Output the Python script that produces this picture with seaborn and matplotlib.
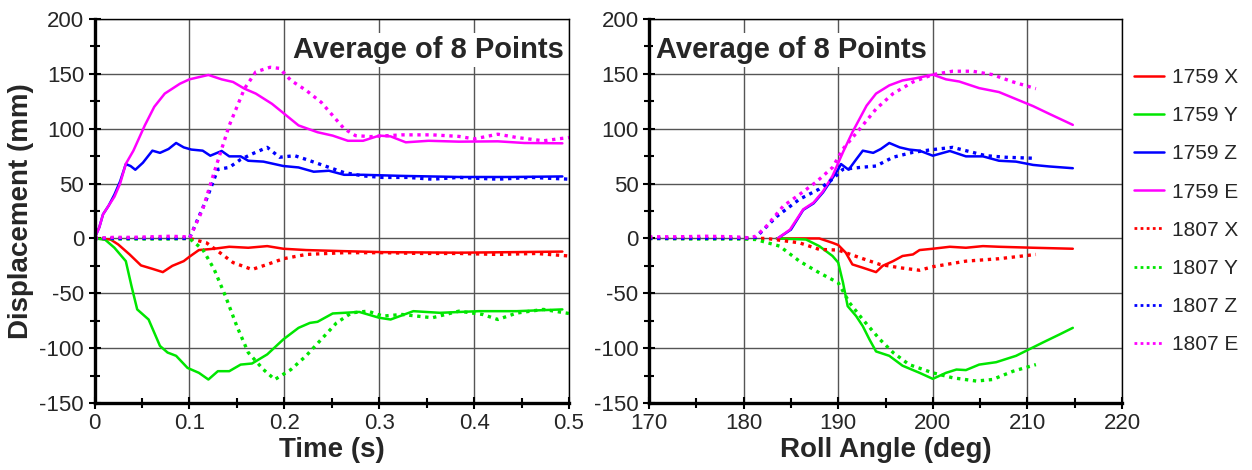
import matplotlib
matplotlib.use("Agg")
import matplotlib.pyplot as plt
from matplotlib.ticker import MultipleLocator
from matplotlib.lines import Line2D
import seaborn as sns
import pandas as pd

sns.set_theme(style="white")
plt.rcParams["font.family"] = ["Liberation Sans", "DejaVu Sans"]
plt.rcParams["axes.unicode_minus"] = False

# ---------------- Time history (s) ----------------
t_1759_x = [0, 0.017, 0.025, 0.037, 0.049, 0.061, 0.072, 0.082, 0.094, 0.1, 0.11, 0.126,
            0.142, 0.162, 0.182, 0.199, 0.223, 0.263, 0.304, 0.384, 0.44, 0.493]
d_1759_x = [0, -1, -5.5, -14.6, -24.6, -27.7, -30.7, -25, -20.7, -16.7, -10.6, -9.4,
            -7.6, -8.5, -7, -9.4, -10.6, -11.6, -12.5, -13, -12.5, -12]

t_1759_y = [0, 0.011, 0.021, 0.033, 0.039, 0.045, 0.057, 0.069, 0.077, 0.086, 0.098, 0.11,
            0.12, 0.13, 0.142, 0.154, 0.166, 0.182, 0.199, 0.215, 0.227, 0.235, 0.251,
            0.279, 0.3, 0.312, 0.336, 0.364, 0.405, 0.445, 0.493]
d_1759_y = [0, -1, -8.5, -20.7, -43.5, -64.7, -73.9, -98, -104, -107, -118, -122.5,
            -128.6, -121, -121, -115, -114, -105.7, -92, -81.5, -77, -76, -68.4,
            -67, -72.3, -73.9, -66.3, -67.8, -66.3, -66.3, -64.7]

t_1759_z = [0, 0.005, 0.009, 0.015, 0.021, 0.027, 0.033, 0.038, 0.043, 0.051, 0.061, 0.069,
            0.078, 0.086, 0.094, 0.102, 0.114, 0.122, 0.134, 0.142, 0.154, 0.162, 0.178,
            0.199, 0.215, 0.231, 0.247, 0.263, 0.283, 0.324, 0.384, 0.44, 0.493]
d_1759_z = [0, 10, 22, 30, 40, 52, 67.8, 66, 62.6, 69, 80, 78,
            81.5, 87, 83, 81, 80, 75.4, 79.7, 74.8, 74.8, 70.8, 70,
            66, 64.7, 60.8, 61.7, 58, 58, 57, 56, 56, 56.5]

t_1759_e = [0, 0.005, 0.009, 0.015, 0.021, 0.027, 0.033, 0.041, 0.053, 0.063, 0.074, 0.09,
            0.1, 0.11, 0.12, 0.134, 0.146, 0.158, 0.17, 0.187, 0.2, 0.215, 0.235, 0.251,
            0.267, 0.283, 0.3, 0.312, 0.328, 0.352, 0.384, 0.425, 0.453, 0.493]
d_1759_e = [0, 10, 22, 30, 38, 50, 68, 80, 103, 120, 132, 141,
            145, 147, 149, 145, 142.6, 136.5, 132, 122.7, 113.6, 103, 96.8, 93.7,
            89, 89, 93.7, 93, 87.6, 89, 88.2, 88.5, 87, 86.7]

t_1807_x = [0, 0.02, 0.04, 0.06, 0.08, 0.1, 0.118, 0.13, 0.146, 0.166, 0.182, 0.199,
            0.223, 0.263, 0.304, 0.344, 0.384, 0.425, 0.465, 0.5]
d_1807_x = [0, 0, 0, 0, 0, 0, -4, -11.6, -22, -28.3, -23.7, -18.5,
            -14.6, -13, -13, -13.7, -13.7, -14.6, -13.7, -16]

t_1807_y = [0, 0.02, 0.04, 0.06, 0.08, 0.1, 0.114, 0.126, 0.138, 0.15, 0.162, 0.178,
            0.19, 0.207, 0.223, 0.239, 0.255, 0.271, 0.288, 0.304, 0.324, 0.356, 0.384,
            0.409, 0.425, 0.445, 0.473, 0.5]
d_1807_y = [0, -0.5, -0.5, -0.5, -0.5, 0, -10, -28, -52.6, -80, -104, -119.5,
            -128.6, -119.5, -107, -92, -77, -67.8, -66.3, -70.8, -69.3, -72.3, -66.3,
            -69.3, -73.9, -68, -64.7, -68.4]

t_1807_z = [0, 0.02, 0.04, 0.06, 0.08, 0.1, 0.118, 0.13, 0.142, 0.154, 0.166, 0.182,
            0.195, 0.211, 0.223, 0.243, 0.263, 0.283, 0.303, 0.33, 0.356, 0.384, 0.425,
            0.46, 0.5]
d_1807_z = [0, 0, 0, 0, 0, 0, 35.7, 63, 64.7, 72, 77, 83,
            74, 75.4, 72, 66, 60, 57, 55.6, 55.6, 54, 55.6, 54,
            55.6, 54]

t_1807_e = [0, 0.02, 0.04, 0.06, 0.08, 0.095, 0.1, 0.114, 0.126, 0.142, 0.158, 0.17,
            0.185, 0.195, 0.207, 0.223, 0.239, 0.251, 0.263, 0.275, 0.291, 0.324, 0.356,
            0.384, 0.4, 0.425, 0.445, 0.473, 0.5]
d_1807_e = [0, 1, 1, 1.5, 2, 1.5, 0, 26.5, 60, 103, 136.5, 151.8,
            156, 155, 144, 135, 124, 112, 100, 93.7, 92.8, 94.4, 94.4,
            93, 90.7, 95, 92, 89, 92]

# ---------------- Roll angle (deg) ----------------
a_1759_x = [183.5, 186, 188, 189.4, 190, 190.8, 191.5, 192.6, 194, 194.7, 195.8, 196.8,
            197.9, 198.6, 200, 201.8, 203.5, 205.3, 207, 210.6, 214.8]
r_1759_x = [0, 0, 0, -4, -6, -13, -23.7, -26.7, -30.7, -25, -20.7, -16,
            -14.6, -10.6, -9.4, -7.6, -8.5, -7, -7.6, -8.5, -9.4]

a_1759_y = [183.5, 186.6, 188, 189.4, 190, 190.5, 191, 191.9, 192.6, 193.3, 194, 195.4,
            196.8, 198.6, 200, 201.4, 202.5, 203.5, 204.9, 206.7, 208.8, 210.2, 211.6,
            213.4, 214.8]
r_1759_y = [0, -1, -7, -16, -22, -40, -61.7, -70.8, -80, -92, -103, -107,
            -116, -122.5, -128, -122.5, -119.5, -120, -115, -112.8, -107, -101, -95,
            -87.5, -81.5]

a_1759_z = [183.6, 185, 186.3, 187.4, 188.4, 189.4, 190, 190.3, 191.1, 191.9, 192.6, 193.7,
            194.5, 195.4, 196.5, 197.5, 198.6, 200, 201.8, 203.5, 205.3, 207, 208.8,
            210.6, 212.3, 214.8]
r_1759_z = [0, 8, 26, 32, 42, 55, 63, 67.8, 62.6, 72, 80, 78,
            81.5, 87, 83, 81, 80, 75.4, 79.7, 74.8, 74.8, 70.8, 70,
            67, 65.6, 64]

a_1759_e = [183.6, 184.9, 186.3, 187.4, 188.4, 189.4, 190.5, 191.5, 193, 194, 195.4, 196.8,
            198.2, 200, 201.4, 202.8, 204.9, 207, 208.8, 210.6, 212.3, 214.8]
r_1759_e = [0, 8, 26.5, 32.7, 43, 57, 78.5, 96.8, 121, 132, 139.5, 144,
            146, 149.3, 145, 143, 137, 133.4, 127, 120.6, 113.6, 103.5]

a_1807_x = [170, 175, 180, 182.4, 185.9, 188, 190, 192.3, 194.4, 196.5, 198.6, 200,
            203.5, 207, 210.9]
r_1807_x = [0, 0, 0, 0, -4, -10, -10.6, -17.6, -23.7, -26.7, -29, -25.8,
            -20.7, -18.5, -14.6]

a_1807_y = [170, 175, 180, 181.3, 183.8, 185.9, 188, 190, 191.2, 192.6, 194.4, 195.8,
            197.5, 200, 202.1, 204.6, 206.3, 208.5, 210.9]
r_1807_y = [0, -0.5, -0.5, -1, -7, -20.7, -31.3, -40.4, -58.7, -73.9, -92, -104,
            -115, -122.5, -127, -130, -128.6, -121, -115]

a_1807_z = [170, 175, 180, 181.3, 183.5, 185.9, 188, 189.4, 190.5, 192.3, 194, 195.8,
            197.9, 200, 202.1, 203.5, 205.6, 207.7, 210.9]
r_1807_z = [0, 0, 0, 1, 20, 35.7, 45, 54, 63, 64.7, 66, 74,
            78.5, 81, 83, 80, 75.4, 74, 73]

a_1807_e = [170, 173, 176, 179, 180.5, 181.3, 182.4, 184.2, 185.9, 187.7, 189.4, 190.5,
            192.3, 194, 195.8, 197.9, 200, 202.1, 204.2, 206.3, 208.5, 210.9]
r_1807_e = [1.5, 1.5, 2, 1.5, 0.6, 2, 11, 29.6, 40, 51.6, 64.7, 81.5,
            100, 118, 132, 142.6, 149.3, 152.4, 152.4, 149.3, 142.6, 136.5]

series_names = ["1759 X", "1759 Y", "1759 Z", "1759 E",
                "1807 X", "1807 Y", "1807 Z", "1807 E"]
time_series = [(t_1759_x, d_1759_x), (t_1759_y, d_1759_y), (t_1759_z, d_1759_z),
               (t_1759_e, d_1759_e), (t_1807_x, d_1807_x), (t_1807_y, d_1807_y),
               (t_1807_z, d_1807_z), (t_1807_e, d_1807_e)]
angle_series = [(a_1759_x, r_1759_x), (a_1759_y, r_1759_y), (a_1759_z, r_1759_z),
                (a_1759_e, r_1759_e), (a_1807_x, r_1807_x), (a_1807_y, r_1807_y),
                (a_1807_z, r_1807_z), (a_1807_e, r_1807_e)]

colors = ["#ff0000", "#00e600", "#0000ff", "#ff00ff"] * 2
styles = ["-"] * 4 + [":"] * 4

fig = plt.figure(figsize=(12.52, 4.70), dpi=100)
ax_t = fig.add_axes([94.5 / 1252, 67 / 470, (569 - 94.5) / 1252, 384 / 470])
ax_a = fig.add_axes([649 / 1252, 67 / 470, (1122 - 649) / 1252, 384 / 470])


def draw(ax, data):
    for (xs, ys), name, c, ls in zip(data, series_names, colors, styles):
        df = pd.DataFrame({"x": xs, "y": ys})
        lw = 1.8 if ls == "-" else 2.4
        sns.lineplot(data=df, x="x", y="y", ax=ax, color=c, lw=lw, sort=False,
                     estimator=None)
        ax.lines[-1].set_linestyle((0, (1, 1.4)) if ls == ":" else "-")
        if ls == ":":
            ax.lines[-1].set_dash_capstyle("butt")


def style_axes(ax, xmin, xmax, major, minor, label, text_x, text_ha):
    ax.set_xlim(xmin, xmax)
    ax.set_ylim(-150, 200)
    ax.xaxis.set_major_locator(MultipleLocator(major))
    ax.xaxis.set_minor_locator(MultipleLocator(minor))
    ax.yaxis.set_major_locator(MultipleLocator(50))
    ax.yaxis.set_minor_locator(MultipleLocator(25))
    ax.grid(True, which="major", color="#555555", lw=1.0)
    ax.set_axisbelow(True)
    ax.tick_params(which="both", direction="inout", color="black", width=1.5,
                   labelsize=16, pad=3, bottom=True, left=True, top=False, right=False)
    ax.tick_params(which="major", length=9)
    ax.tick_params(which="minor", length=7)
    for side in ["left", "bottom"]:
        ax.spines[side].set_linewidth(2.4)
        ax.spines[side].set_color("black")
    for side in ["top", "right"]:
        ax.spines[side].set_linewidth(1.0)
        ax.spines[side].set_color("black")
    ax.set_xlabel(label, fontsize=20, fontweight="bold", labelpad=2)
    ax.text(text_x, 0.955, "Average of 8 Points", transform=ax.transAxes,
            ha=text_ha, va="top", fontsize=21, fontweight="bold", zorder=5,
            bbox=dict(facecolor="white", edgecolor="none", pad=2))


draw(ax_t, time_series)
draw(ax_a, angle_series)
style_axes(ax_t, 0, 0.5, 0.1, 0.05, "Time (s)", 0.99, "right")
style_axes(ax_a, 170, 220, 10, 5, "Roll Angle (deg)", 0.015, "left")
ax_t.xaxis.set_major_formatter(plt.FuncFormatter(lambda v, p: "0" if abs(v) < 1e-9 else f"{v:g}"))
ax_t.set_ylabel("Displacement (mm)", fontsize=20, fontweight="bold", labelpad=4)
ax_a.set_ylabel("")

handles = [Line2D([], [], color=c, lw=(1.8 if ls == "-" else 2.0),
                  linestyle=("-" if ls == "-" else (0, (1, 1.2))))
           for c, ls in zip(colors, styles)]
fig.legend(handles, series_names, loc="upper left", bbox_to_anchor=(1134 / 1252, 1 - 68 / 470),
           frameon=False, fontsize=15, handlelength=1.45, handletextpad=0.35,
           labelspacing=0.92, borderaxespad=0, borderpad=0)

fig.savefig("out.png", dpi=100)
